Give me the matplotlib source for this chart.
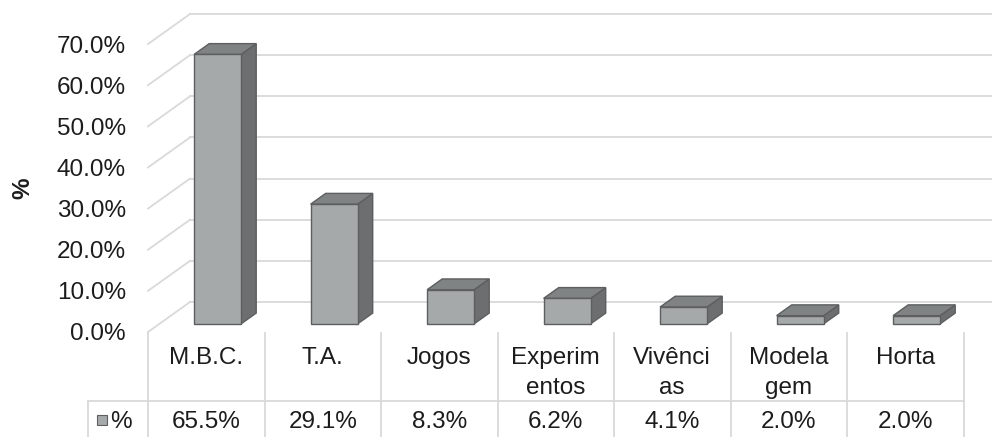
import matplotlib
matplotlib.use("Agg")
from matplotlib import pyplot as plt
from matplotlib.patches import Polygon, Rectangle

plt.rcParams["font.family"] = ["Liberation Sans", "DejaVu Sans"]

# data
labels = ["M.B.C.", "T.A.", "Jogos", "Experim\nentos", "Vivênci\nas", "Modela\ngem", "Horta"]
values = [65.5, 29.1, 8.3, 6.2, 4.1, 2.0, 2.0]
series_name = "%"
yticks = [0, 10, 20, 30, 40, 50, 60, 70]

# pseudo 3d geometry (data units: 1 per category, % on y)
PX_X = 116.5  # px per category
PX_Y = 4.114  # px per percent
DX = 42 / PX_X  # full depth offset
DY = 30 / PX_Y
F1, F2 = 0.27, 0.63  # front / back depth of bars
W = 47 / PX_X
FS = 17.5

grid_c = "#d9d9d9"
front_c = "#a6a9aa"
side_c = "#6c6e6f"
top_c = "#808384"
edge_c = "#5c5e5f"
txt_c = "#1c1c1c"

fig = plt.figure(figsize=(9.92, 4.37), dpi=100)
ax = fig.add_axes([148 / 992, 105 / 437, 844 / 992, 332 / 437])
ax.set_xlim(0, 844 / PX_X)
ax.set_ylim(0, 332 / PX_Y)
for s in ax.spines.values():
    s.set_visible(False)
ax.set_xticks([])
ax.set_yticks(yticks)
ax.set_yticklabels(["{:.1f}%".format(v) for v in yticks])
ax.tick_params(axis="y", length=0, pad=16, labelsize=FS, colors=txt_c)
ax.set_ylabel("%", fontsize=FS, fontweight="bold", rotation=90, color=txt_c)
ax.yaxis.set_label_coords((34 - 148) / 844, 0.434)

# walls: diagonal on the left wall + back wall gridlines
xmax = ax.get_xlim()[1]
for v in yticks:
    ax.plot([0, DX], [v, v + DY], color=grid_c, lw=1.3, zorder=1, clip_on=False)
    ax.plot([DX, xmax], [v + DY, v + DY], color=grid_c, lw=1.3, zorder=1, clip_on=False)

# bars
n = len(values)
xc = [i + 0.5 + F1 * DX for i in range(n)]
by = F1 * DY
ddx, ddy = (F2 - F1) * DX, (F2 - F1) * DY
ax.bar(xc, values, width=W, bottom=by, color=front_c, edgecolor=edge_c, lw=1, zorder=4)
for x, v in zip(xc, values):
    xl, xr = x - W / 2, x + W / 2
    side = Polygon([(xr, by), (xr + ddx, by + ddy), (xr + ddx, by + v + ddy), (xr, by + v)],
                   closed=True, fc=side_c, ec=edge_c, lw=1, zorder=3)
    top = Polygon([(xl, by + v), (xr, by + v), (xr + ddx, by + v + ddy), (xl + ddx, by + v + ddy)],
                  closed=True, fc=top_c, ec=edge_c, lw=1, zorder=3)
    ax.add_patch(side)
    ax.add_patch(top)

# data table under the chart
def py(p):
    return (332 - p) / PX_Y

y_top, y_mid, y_bot = py(333), py(401), py(437)
leg_x = (88 - 148) / PX_X
for i in range(n + 1):
    ax.plot([i, i], [y_top, y_bot], color=grid_c, lw=1.3, clip_on=False)
ax.plot([leg_x, n], [y_mid, y_mid], color=grid_c, lw=1.3, clip_on=False)
ax.plot([leg_x, leg_x], [y_mid, y_bot], color=grid_c, lw=1.3, clip_on=False)

for i, (lab, v) in enumerate(zip(labels, values)):
    for k, line in enumerate(lab.split("\n")):
        ax.text(i + 0.5, py(364 + 30 * k), line, ha="center", va="baseline",
                fontsize=FS, color=txt_c, clip_on=False)
    ax.text(i + 0.5, py(428), "{:.1f}%".format(v), ha="center", va="baseline",
            fontsize=FS, color=txt_c, clip_on=False)

ax.add_patch(Rectangle(((97 - 148) / PX_X, py(425)), 10 / PX_X, 10 / PX_Y,
                       fc=front_c, ec=edge_c, lw=0.8, clip_on=False))
ax.text((110 - 148) / PX_X, py(428), series_name, ha="left", va="baseline",
        fontsize=FS, color=txt_c, clip_on=False)

fig.savefig("out.png", dpi=100)
